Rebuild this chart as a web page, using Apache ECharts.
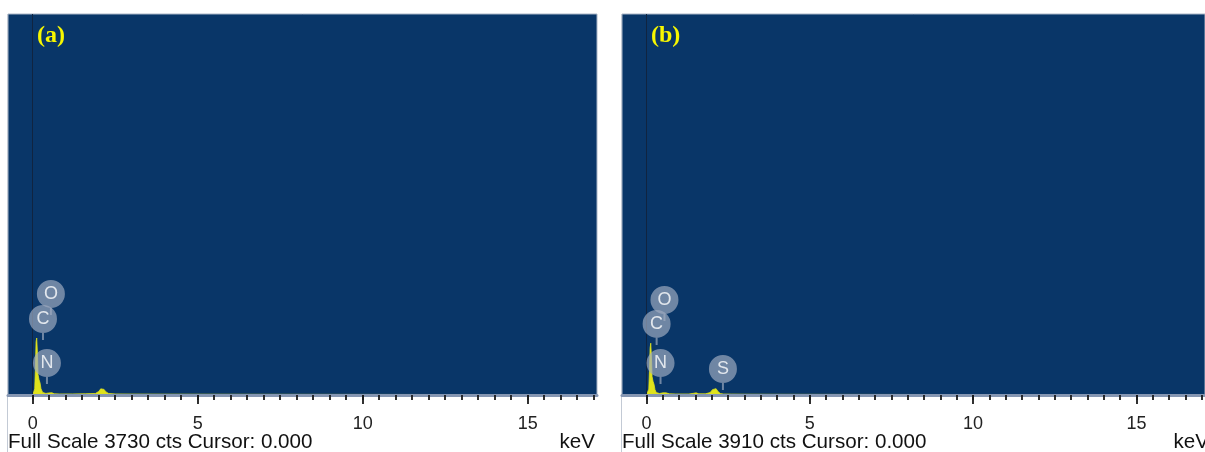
<!DOCTYPE html>
<html><head><meta charset="utf-8">
<script src="https://cdn.jsdelivr.net/npm/echarts@6/dist/echarts.min.js"></script>
<style>html,body{margin:0;padding:0;background:#fff}#c{width:1205px;height:452px}</style>
</head><body><div id="c"></div><script>
// ---------------- data ----------------
const panelTitles = ['(a)', '(b)'];
const fullScale = [3730, 3910];
const cursorText = '0.000';
const axisUnit = 'keV';
const xMin = -0.75, xMax = 17.1;
const majorTicks = [0, 5, 10, 15];
const minorTicks = [0,0.5,1,1.5,2,2.5,3,3.5,4,4.5,5,5.5,6,6.5,7,7.5,8,8.5,9,9.5,10,10.5,11,11.5,12,12.5,13,13.5,14,14.5,15,15.5,16,16.5,17];

// spectrum (a): [keV, counts]
const spectrumA = [[-0.75,0],[0.0,0],[0.03,15],[0.06,60],[0.08,250],[0.10,520],[0.12,558],[0.14,420],[0.16,200],
  [0.19,150],[0.22,120],[0.25,60],[0.30,25],[0.40,15],[0.48,20],[0.53,35],[0.58,22],[0.65,12],[0.80,10],[1.2,10],
  [1.6,12],[1.9,15],[2.0,35],[2.06,60],[2.11,68],[2.16,55],[2.22,30],[2.3,15],[2.5,10],[3,9],[4,8],[6,7],[9,6],
  [12,5],[15,5],[17.1,4]];
// spectrum (b): [keV, counts]
const spectrumB = [[-0.75,0],[0.0,0],[0.04,15],[0.07,60],[0.09,240],[0.11,480],[0.13,532],[0.15,400],[0.17,190],
  [0.20,140],[0.23,110],[0.26,55],[0.30,25],[0.40,15],[0.50,22],[0.55,35],[0.60,22],[0.70,12],[0.9,10],[1.3,10],
  [1.45,18],[1.52,22],[1.6,12],[1.8,12],[1.95,25],[2.02,55],[2.08,72],[2.13,65],[2.19,35],[2.26,15],[2.35,10],
  [2.6,9],[3,8],[4,7],[6,6],[9,5],[12,5],[15,4],[17.1,4]];

// element markers: name, keV, counts (circle centre)
const elementsA = ['O', 'C', 'N'];
const elemKeVA  = [0.55, 0.31, 0.43];
const elemCtsA  = [989, 744, 313];
const elementsB = ['O', 'C', 'N', 'S'];
const elemKeVB  = [0.55, 0.31, 0.43, 2.34];
const elemCtsB  = [975, 729, 328, 267];

// ---------------- layout ----------------
const panelLeft = [8, 622];
const plotTop = 14, plotHeight = 381, plotWidth = 589;
const FONT = 'Liberation Sans, Arial, sans-serif';

const chart = echarts.init(document.getElementById('c'), null, {renderer: 'canvas'});

const grids = [], xAxes = [], yAxes = [], series = [], graphics = [];
const spectra = [spectrumA, spectrumB];
const elNames = [elementsA, elementsB], elKeV = [elemKeVA, elemKeVB], elCts = [elemCtsA, elemCtsB];

const markerPath = 'path://M14 0 A14 14 0 1 1 13.99 0 Z M13 27 L15 27 L15 35 L13 35 Z';

for (let i = 0; i < 2; i++) {
  grids.push({left: panelLeft[i], top: plotTop, width: plotWidth, height: plotHeight,
    show: true, backgroundColor: '#093668', borderColor: '#aab5c6', borderWidth: 1, containLabel: false});
  xAxes.push({type: 'value', gridIndex: i, min: xMin, max: xMax, position: 'bottom', z: 6,
    axisLine: {show: true, onZero: false, lineStyle: {color: '#8596b2', width: 3}},
    axisTick: {show: true, customValues: majorTicks, length: 9, lineStyle: {color: '#1a1a1a', width: 1.8}},
    axisLabel: {show: true, customValues: majorTicks, fontSize: 18, color: '#222', margin: 20, fontFamily: FONT},
    splitLine: {show: false}});
  xAxes.push({type: 'value', gridIndex: i, min: xMin, max: xMax, position: 'bottom', z: 6,
    axisLine: {show: false},
    axisTick: {show: true, customValues: minorTicks, length: 5, lineStyle: {color: '#1a1a1a', width: 1.8}},
    axisLabel: {show: false}, splitLine: {show: false}});
  yAxes.push({type: 'value', gridIndex: i, min: 0, max: fullScale[i], show: false, splitLine: {show: false}});

  series.push({type: 'line', xAxisIndex: 2 * i, yAxisIndex: i, data: spectra[i], symbol: 'none',
    lineStyle: {color: '#dfe31c', width: 0.8}, areaStyle: {color: '#dfe31c', opacity: 1}, z: 3, silent: true,
    markLine: {silent: true, symbol: 'none', label: {show: false},
      lineStyle: {color: '#102440', width: 1, type: 'solid'}, data: [{xAxis: 0}]}});

  series.push({type: 'scatter', xAxisIndex: 2 * i, yAxisIndex: i, silent: true, z: 5,
    data: elNames[i].map((n, k) => ({name: n, value: [elKeV[i][k], elCts[i][k]]})),
    symbol: markerPath, symbolSize: [28, 35], symbolOffset: [0, 3.5],
    itemStyle: {color: 'rgba(160,172,192,0.85)'},
    label: {show: true, position: 'inside', offset: [0, -3.5], formatter: p => p.name,
      color: '#ffffff', fontSize: 18, fontFamily: FONT}});

  const L = panelLeft[i];
  graphics.push({type: 'line', shape: {x1: L - 0.5, y1: plotTop, x2: L - 0.5, y2: 452},
    style: {stroke: '#c3cad5', lineWidth: 1}, silent: true});
  graphics.push({type: 'text', left: L, top: 432, silent: true,
    style: {text: 'Full Scale ' + fullScale[i] + ' cts Cursor: ' + cursorText, font: '20.6px ' + FONT, fill: '#111'}});
  graphics.push({type: 'text', x: L + plotWidth - 2, y: 432, silent: true,
    style: {text: axisUnit, font: '20.6px ' + FONT, fill: '#111', align: 'right', verticalAlign: 'top'}});
  graphics.push({type: 'text', x: L + 29, y: 24, silent: true, z: 10,
    style: {text: panelTitles[i], font: 'bold 24px Liberation Serif, Times New Roman, serif', fill: '#f7f700'}});
}

chart.setOption({
  animation: false,
  backgroundColor: '#ffffff',
  grid: grids, xAxis: xAxes, yAxis: yAxes, series: series, graphic: graphics
});
</script></body></html>
